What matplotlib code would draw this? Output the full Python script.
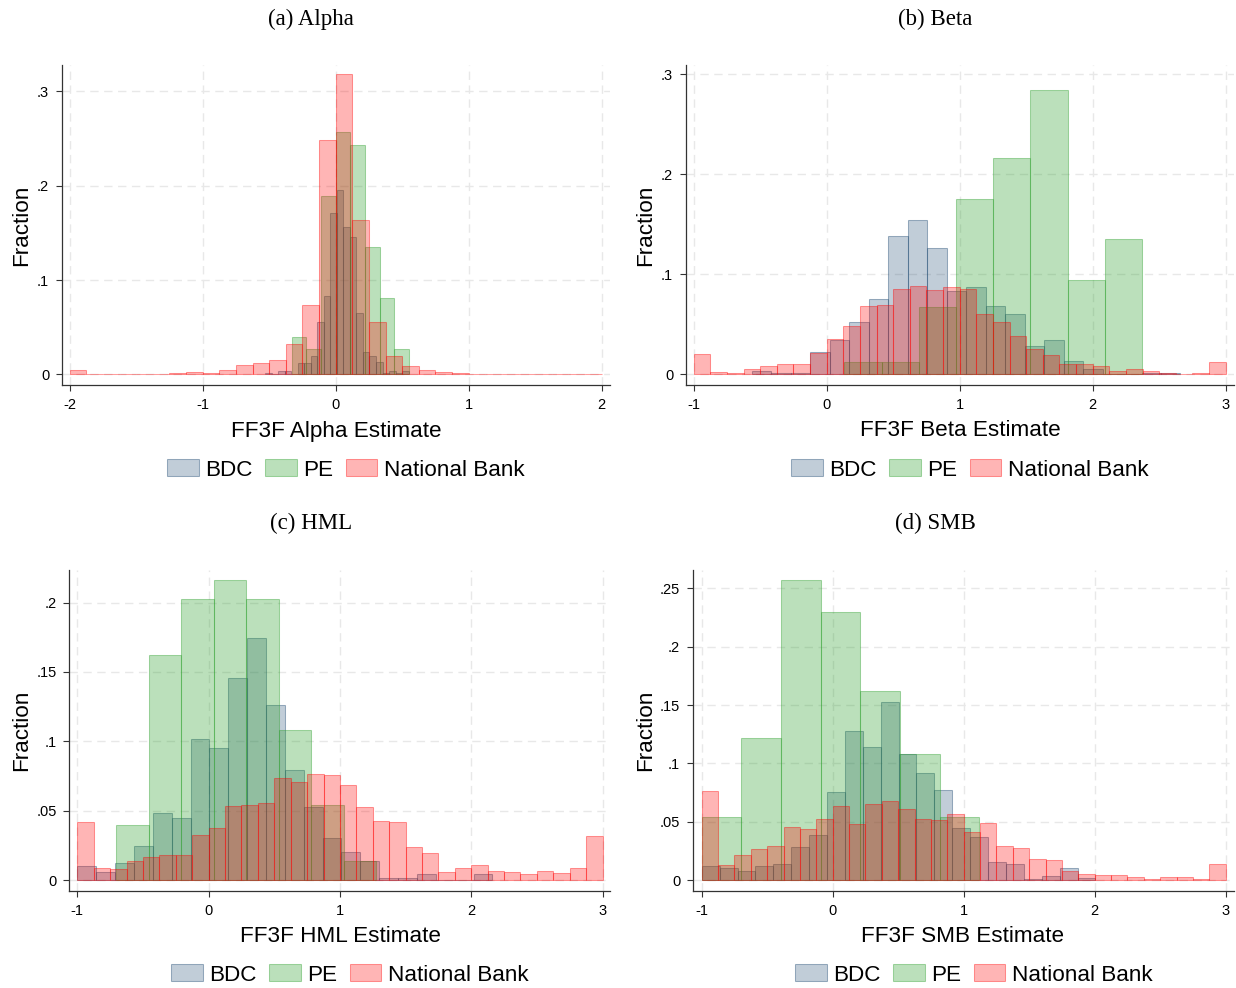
import matplotlib
matplotlib.use("Agg")
import matplotlib.pyplot as plt
from matplotlib.patches import Patch

# ---- data: histogram fractions ----
# each series: first bin edge, bin width, fraction in each bin

# (a) Alpha
alpha_bdc_start, alpha_bdc_width = -0.53, 0.049
alpha_bdc = [0.001, 0, 0.0035, 0.0035, 0, 0.0117, 0.0117, 0.019, 0.056, 0.083, 0.171,
             0.195, 0.156, 0.146, 0.065, 0.024, 0.019, 0.013, 0.001, 0.0035, 0.001, 0.0035]
alpha_pe_start, alpha_pe_width = -0.331, 0.1103
alpha_pe = [0.040, 0.0265, 0.189, 0.257, 0.243, 0.135, 0.081, 0.0265]
alpha_nb_start, alpha_nb_width = -2.0, 0.125
alpha_nb = [0.0042, 0.0004, 0, 0, 0.0004, 0.0004, 0.0014, 0.002, 0.001, 0.005, 0.010,
            0.012, 0.015, 0.032, 0.074, 0.249, 0.318, 0.164, 0.056, 0.019, 0.009, 0.0042,
            0.003, 0.0018, 0.0004, 0.0004, 0.0002, 0.0002, 0.0002, 0, 0, 0.0004]

# (b) Beta
beta_bdc_start, beta_bdc_width = -0.563, 0.1465
beta_bdc = [0.0033, 0.001, 0.001, 0.022, 0.0345, 0.052, 0.075, 0.138, 0.154, 0.126, 0.083,
            0.087, 0.068, 0.060, 0.028, 0.034, 0.0133, 0.005, 0, 0, 0.001, 0.001]
beta_pe_start, beta_pe_width = 0.133, 0.2797
beta_pe = [0.0127, 0.0127, 0.067, 0.175, 0.216, 0.284, 0.0943, 0.135]
beta_nb_start, beta_nb_width = -1.0, 0.125
beta_nb = [0.020, 0.0027, 0.001, 0.005, 0.008, 0.0107, 0.0107, 0.0213, 0.0357, 0.048, 0.068,
           0.069, 0.085, 0.088, 0.084, 0.087, 0.085, 0.060, 0.052, 0.038, 0.025, 0.0197,
           0.0107, 0.010, 0.008, 0.003, 0.005, 0.003, 0.0017, 0.0003, 0.001, 0.012]

# (c) HML
hml_bdc_start, hml_bdc_width = -1.0, 0.1437
hml_bdc = [0.0101, 0.0058, 0.012, 0.0243, 0.0486, 0.0445, 0.1014, 0.0952, 0.146, 0.1748, 0.126,
           0.079, 0.0524, 0.030, 0.020, 0.0137, 0.0012, 0.0012, 0.004, 0, 0, 0.004]
hml_pe_start, hml_pe_width = -0.705, 0.2477
hml_pe = [0.040, 0.162, 0.2024, 0.216, 0.2024, 0.108, 0.054, 0.0137]
hml_nb_start, hml_nb_width = -1.0, 0.125
hml_nb = [0.0416, 0.0089, 0.0082, 0.0135, 0.0166, 0.0178, 0.0178, 0.0325, 0.0375, 0.0534, 0.0538,
          0.0553, 0.0736, 0.0707, 0.0764, 0.0755, 0.0683, 0.0524, 0.0428, 0.0416, 0.0238, 0.0192,
          0.006, 0.0089, 0.0108, 0.0065, 0.0055, 0.0041, 0.0065, 0.005, 0.0084, 0.032]

# (d) SMB
smb_bdc_start, smb_bdc_width = -1.0, 0.1366
smb_bdc = [0.012, 0.010, 0.0074, 0.012, 0.0137, 0.0283, 0.0386, 0.0751, 0.128, 0.1137, 0.1523,
           0.1077, 0.0914, 0.0769, 0.0443, 0.0366, 0.0157, 0.0137, 0.0011, 0.0037, 0.010, 0.0014]
smb_pe_start, smb_pe_width = -1.0, 0.3025
smb_pe = [0.0537, 0.1214, 0.257, 0.2297, 0.162, 0.1077, 0.0537]
smb_nb_start, smb_nb_width = -1.0, 0.125
smb_nb = [0.076, 0.0126, 0.0211, 0.0263, 0.0289, 0.0451, 0.0437, 0.052, 0.0631, 0.0477, 0.0649,
          0.0674, 0.0606, 0.052, 0.0514, 0.0563, 0.0409, 0.0486, 0.0289, 0.0271, 0.0177, 0.0169,
          0.0074, 0.0054, 0.0043, 0.0043, 0.0026, 0.0009, 0.0026, 0.0026, 0.0009, 0.0137]

group_names = ['BDC', 'PE', 'National Bank']

alpha_xticks = [-2, -1, 0, 1, 2]
beta_xticks = [-1, 0, 1, 2, 3]
alpha_yticks, alpha_ylabels = [0, 0.1, 0.2, 0.3], ['0', '.1', '.2', '.3']
beta_yticks, beta_ylabels = [0, 0.1, 0.2, 0.3], ['0', '.1', '.2', '.3']
hml_yticks, hml_ylabels = [0, 0.05, 0.1, 0.15, 0.2], ['0', '.05', '.1', '.15', '.2']
smb_yticks, smb_ylabels = [0, 0.05, 0.1, 0.15, 0.2, 0.25], ['0', '.05', '.1', '.15', '.2', '.25']

# ---- style ----
W, H = 1236, 988
bdc_rgb = (0.102, 0.278, 0.435)
pe_rgb = (0.173, 0.627, 0.173)
nb_rgb = (1.0, 0.0, 0.0)
face_alpha = [0.27, 0.32, 0.29]
edge_alpha = [0.4, 0.4, 0.38]
colors = [bdc_rgb, pe_rgb, nb_rgb]

sans = 'Liberation Sans'
serif = 'Liberation Serif'
plt.rcParams['font.family'] = sans

fig = plt.figure(figsize=(W / 100, H / 100), dpi=100)


def px_rect(left, top, right, bottom):
    return [left / W, 1 - bottom / H, (right - left) / W, (bottom - top) / H]


def fig_text(x, y, s, **kw):
    fig.text(x / W, 1 - y / H, s, ha='center', va='center', **kw)


def panel(rect, xlim, ylim, xticks, yticks, ylabels, series, title, title_xy,
          xlabel, xlabel_xy, ylabel_xy, legend_xy):
    ax = fig.add_axes(px_rect(*rect))
    for i, (start, width, heights) in enumerate(series):
        lefts = [start + k * width for k in range(len(heights))]
        ax.bar(lefts, heights, width=width, align='edge',
               facecolor=colors[i] + (face_alpha[i],),
               edgecolor=colors[i] + (edge_alpha[i],), linewidth=0.75, zorder=2 + i)
    ax.set_xlim(*xlim)
    ax.set_ylim(*ylim)
    ax.set_xticks(xticks)
    ax.set_xticklabels([str(t) for t in xticks])
    ax.set_yticks(yticks)
    ax.set_yticklabels(ylabels)
    ax.grid(True, linestyle=(0, (6, 4)), color='#e8e8e8', linewidth=1.0)
    ax.set_axisbelow(True)
    for s in ['top', 'right']:
        ax.spines[s].set_visible(False)
    for s in ['left', 'bottom']:
        ax.spines[s].set_color('#333333')
        ax.spines[s].set_linewidth(0.9)
    ax.tick_params(direction='out', length=4, width=0.8, color='#333333',
                   labelsize=10.5, pad=5)
    fig_text(*title_xy, title, family=serif, fontsize=16.5)
    fig_text(*xlabel_xy, xlabel, fontsize=16.2)
    fig_text(*ylabel_xy, 'Fraction', fontsize=16.2, rotation=90)
    handles = [Patch(facecolor=colors[i] + (face_alpha[i],),
                     edgecolor=colors[i] + (edge_alpha[i],), linewidth=0.75)
               for i in range(3)]
    fig.legend(handles, group_names, loc='center', ncol=3, frameon=False,
               bbox_to_anchor=(legend_xy[0] / W, 1 - legend_xy[1] / H),
               fontsize=16.2, handlelength=1.4, handleheight=0.75,
               handletextpad=0.3, columnspacing=0.55, borderaxespad=0)
    return ax


panel((61.7, 65, 609.7, 385), (-2.06, 2.06), (-0.0113, 0.328),
      alpha_xticks, alpha_yticks, alpha_ylabels,
      [(alpha_bdc_start, alpha_bdc_width, alpha_bdc),
       (alpha_pe_start, alpha_pe_width, alpha_pe),
       (alpha_nb_start, alpha_nb_width, alpha_nb)],
      '(a) Alpha', (311, 19), 'FF3F Alpha Estimate', (336, 431), (22, 225), (346, 470))

panel((685.7, 65.3, 1233.7, 385), (-1.06, 3.06), (-0.0107, 0.309),
      beta_xticks, beta_yticks, beta_ylabels,
      [(beta_bdc_start, beta_bdc_width, beta_bdc),
       (beta_pe_start, beta_pe_width, beta_pe),
       (beta_nb_start, beta_nb_width, beta_nb)],
      '(b) Beta', (935, 19), 'FF3F Beta Estimate', (960, 431), (646, 225), (970, 470))

panel((69.3, 570, 610.4, 891), (-1.061, 3.06), (-0.0079, 0.2235),
      beta_xticks, hml_yticks, hml_ylabels,
      [(hml_bdc_start, hml_bdc_width, hml_bdc),
       (hml_pe_start, hml_pe_width, hml_pe),
       (hml_nb_start, hml_nb_width, hml_nb)],
      '(c) HML', (311, 523), 'FF3F HML Estimate', (340, 936), (22, 730), (350, 975))

panel((692.7, 570, 1233.6, 891), (-1.069, 3.06), (-0.0094, 0.2657),
      beta_xticks, smb_yticks, smb_ylabels,
      [(smb_bdc_start, smb_bdc_width, smb_bdc),
       (smb_pe_start, smb_pe_width, smb_pe),
       (smb_nb_start, smb_nb_width, smb_nb)],
      '(d) SMB', (935, 523), 'FF3F SMB Estimate', (963, 936), (646, 730), (974, 975))

fig.savefig('out.png', dpi=100)
